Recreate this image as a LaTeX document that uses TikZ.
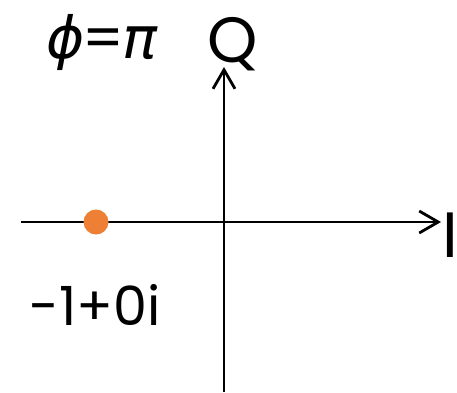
\documentclass[tikz,border=0pt]{standalone}
\usepackage{fontspec}
\setmainfont{Poppins}
\newfontfamily\greekfont{DejaVu Sans}
\usepackage{xcolor}
\usepackage{tikz}
\usetikzlibrary{arrows.meta}
\definecolor{dotorange}{HTML}{EE8035}

\begin{document}
\begin{tikzpicture}[x=1pt, y=-1pt,
  axis/.style={line width=2.8pt, -{Straight Barb[length=19pt, width=22pt, line width=2.8pt]}},
  biglabel/.style={anchor=base, inner sep=0pt, font=\fontsize{64}{64}\selectfont},
  numlabel/.style={anchor=base, inner sep=0pt, font=\fontsize{54}{54}\selectfont}]
  \useasboundingbox (0,0) rectangle (457,392);

  % Axis end points
  \coordinate (Iwest) at (21,222);
  \coordinate (Ieast) at (441,222);
  \coordinate (Qsouth) at (224,392);
  \coordinate (Qnorth) at (224,67);
  \coordinate (point) at (96,222);

  % Axes
  \draw[axis] (Iwest) -- (Ieast);
  \draw[axis] (Qsouth) -- (Qnorth);

  % Constellation point
  \fill[dotorange] (point) circle (12.5);

  % Labels
  \node[biglabel] (qlabel) at (233,62) {Q};
  \node[biglabel] (ilabel) at (450,257) {I};
  \node[numlabel] (pointlabel) at (95,325) {-1+0i};
  \node[anchor=base, inner sep=0pt, font=\fontsize{58}{58}\selectfont] (phase) at (102,58)
    {{\greekfont\itshape ϕ}\kern-2pt=\kern-2pt{\greekfont\itshape π}};
\end{tikzpicture}
\end{document}
